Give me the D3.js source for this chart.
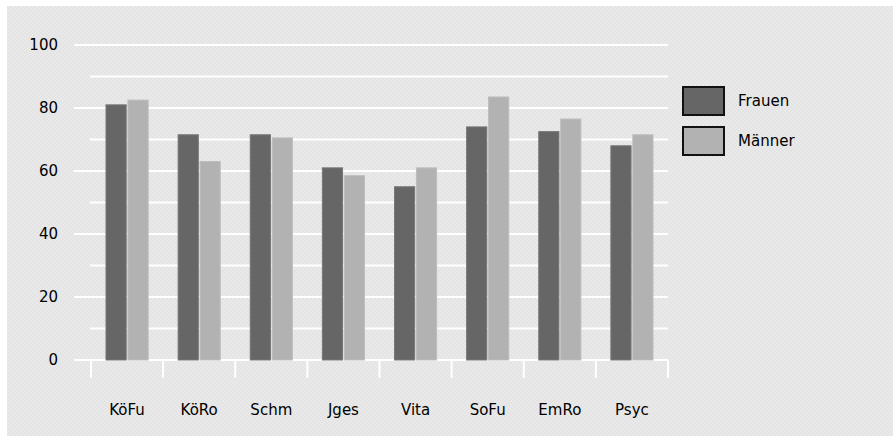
<!DOCTYPE html>
<html>
<head>
<meta charset="utf-8">
<script src="https://cdn.jsdelivr.net/npm/d3@7"></script>
<style>
  html, body { margin: 0; padding: 0; background: #ffffff; }
  svg { display: block; }
  text { font-family: "DejaVu Sans", sans-serif; font-size: 15px; fill: #000; }
</style>
</head>
<body>
<svg id="chart" width="893" height="436"></svg>
<script>
// Scale scores by domain
const categories = ["KöFu", "KöRo", "Schm", "Jges", "Vita", "SoFu", "EmRo", "Psyc"];
const seriesNames = ["Frauen", "Männer"];
const frauen = [81, 71.5, 71.5, 61, 55, 74, 72.5, 68];
const maenner = [82.5, 63, 70.5, 58.5, 61, 83.5, 76.5, 71.5];
const majorTicks = [0, 20, 40, 60, 80, 100];
const minorTicks = [10, 30, 50, 70, 90];
const colors = ["#666666", "#b2b2b2"];

const svg = d3.select("#chart");

// textured grey backdrop
const defs = svg.append("defs");
const pat = defs.append("pattern")
  .attr("id", "dither").attr("width", 4).attr("height", 4)
  .attr("patternUnits", "userSpaceOnUse");
pat.append("rect").attr("width", 4).attr("height", 4).attr("fill", "#e9e9e9");
pat.append("rect").attr("x", 0).attr("y", 0).attr("width", 2).attr("height", 2).attr("fill", "#e4e4e4");
pat.append("rect").attr("x", 2).attr("y", 2).attr("width", 2).attr("height", 2).attr("fill", "#e4e4e4");

svg.append("rect").attr("x", 7).attr("y", 6).attr("width", 886).attr("height", 430)
  .attr("fill", "url(#dither)");

const plotLeft = 91, plotRight = 668;
const y = d3.scaleLinear().domain([0, 100]).range([360, 45]);
const x0 = d3.scaleBand().domain(categories).range([plotLeft, plotRight]).padding(0);
const x1 = d3.scaleBand().domain(seriesNames).range([15, x0.bandwidth() - 15]).paddingInner(0.08);

// grid lines
const grid = svg.append("g");
grid.selectAll("line.major").data(majorTicks).join("line")
  .attr("class", "major")
  .attr("x1", 74).attr("x2", plotRight)
  .attr("y1", d => y(d)).attr("y2", d => y(d))
  .attr("stroke", "#ffffff").attr("stroke-width", 2);
grid.selectAll("line.minor").data(minorTicks).join("line")
  .attr("class", "minor")
  .attr("x1", 90).attr("x2", plotRight)
  .attr("y1", d => y(d)).attr("y2", d => y(d))
  .attr("stroke", "#ffffff").attr("stroke-width", 2);

// category tick marks below the baseline
const bounds = categories.map(c => x0(c)).concat([plotRight]);
grid.selectAll("line.cat").data(bounds).join("line")
  .attr("class", "cat")
  .attr("x1", d => d).attr("x2", d => d)
  .attr("y1", y(0)).attr("y2", y(0) + 18)
  .attr("stroke", "#ffffff").attr("stroke-width", 2);

// y labels
svg.append("g").selectAll("text").data(majorTicks).join("text")
  .attr("x", 58).attr("y", d => y(d))
  .attr("text-anchor", "end").attr("dominant-baseline", "central")
  .text(d => d);

// bars
const rows = categories.map((c, i) => ({ cat: c, vals: [frauen[i], maenner[i]] }));
const groups = svg.append("g").selectAll("g").data(rows).join("g")
  .attr("transform", d => `translate(${x0(d.cat)},0)`);
groups.selectAll("rect").data(d => d.vals.map((v, j) => ({ name: seriesNames[j], v, j })))
  .join("rect")
  .attr("x", d => x1(d.name))
  .attr("width", x1.bandwidth())
  .attr("y", d => y(d.v))
  .attr("height", d => y(0) - y(d.v))
  .attr("fill", d => colors[d.j])
  .attr("stroke", d => d.j === 0 ? "#777777" : "#bdbdbd")
  .attr("stroke-width", 1);

// category labels
svg.append("g").selectAll("text").data(categories).join("text")
  .attr("x", d => x0(d) + x0.bandwidth() / 2)
  .attr("y", 410)
  .attr("text-anchor", "middle").attr("dominant-baseline", "central")
  .text(d => d);

// legend
const legend = svg.append("g");
seriesNames.forEach((s, i) => {
  const top = 87 + i * 40;
  legend.append("rect")
    .attr("x", 683).attr("y", top).attr("width", 41).attr("height", 28)
    .attr("fill", colors[i]).attr("stroke", "#111111").attr("stroke-width", 2);
  legend.append("text")
    .attr("x", 738).attr("y", top + 14)
    .attr("dominant-baseline", "central")
    .text(s);
});
</script>
</body>
</html>
